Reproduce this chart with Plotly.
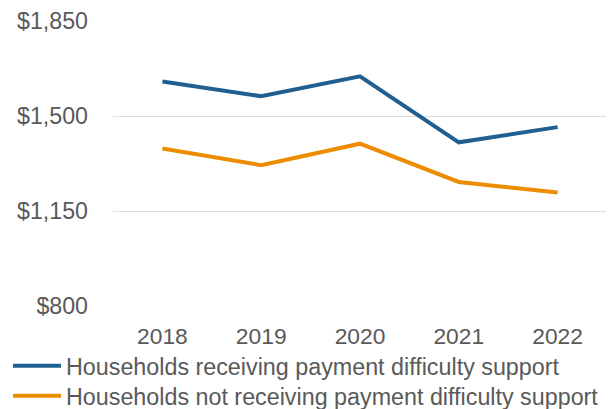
import plotly.graph_objects as go

years = ["2018", "2019", "2020", "2021", "2022"]
receiving = [1627, 1573, 1646, 1403, 1459]
not_receiving = [1380, 1319, 1398, 1257, 1218]
y_ticks = [800, 1150, 1500, 1850]
y_tick_labels = ["$800", "$1,150", "$1,500", "$1,850"]
series_names = [
    "Households receiving payment difficulty support",
    "Households not receiving payment difficulty support",
]

BLUE = "#215F91"
ORANGE = "#EE8C00"
GREY = "#595959"

W, H = 606, 401  # page body has an 8px margin

fig = go.Figure()
fig.add_trace(go.Scatter(x=years, y=receiving, mode="lines", name=series_names[0],
                         line=dict(color=BLUE, width=4), legend="legend"))
fig.add_trace(go.Scatter(x=years, y=not_receiving, mode="lines", name=series_names[1],
                         line=dict(color=ORANGE, width=4), legend="legend2"))

legend_common = dict(
    orientation="v", xref="container", yref="container",
    xanchor="left", yanchor="middle",
    font=dict(size=23.3, color=GREY),
    bgcolor="rgba(0,0,0,0)", itemwidth=48, borderwidth=0,
)

fig.update_layout(
    width=W, height=H,
    margin=dict(l=105, r=7, t=13, b=103, autoexpand=False),
    paper_bgcolor="white", plot_bgcolor="white",
    font=dict(family="Liberation Sans, Arial, sans-serif", size=23, color=GREY),
    showlegend=True,
    legend=dict(legend_common, x=0.0, y=(H - 358) / H),
    legend2=dict(legend_common, x=0.0, y=(H - 388) / H),
)
fig.update_xaxes(
    type="category", range=[-0.5, 4.5], showgrid=False, zeroline=False,
    showline=False, ticks="", tickfont=dict(size=22.8, color=GREY),
    ticklabelstandoff=14, automargin=False,
)
fig.update_yaxes(
    range=[800, 1850], tickvals=y_ticks, ticktext=y_tick_labels,
    showgrid=True, gridcolor="#DDDDDD", gridwidth=1.3, zeroline=False,
    showline=False, ticks="", tickfont=dict(size=23.2, color=GREY),
    ticklabelstandoff=24, automargin=False,
)

fig.write_html("out.html")
